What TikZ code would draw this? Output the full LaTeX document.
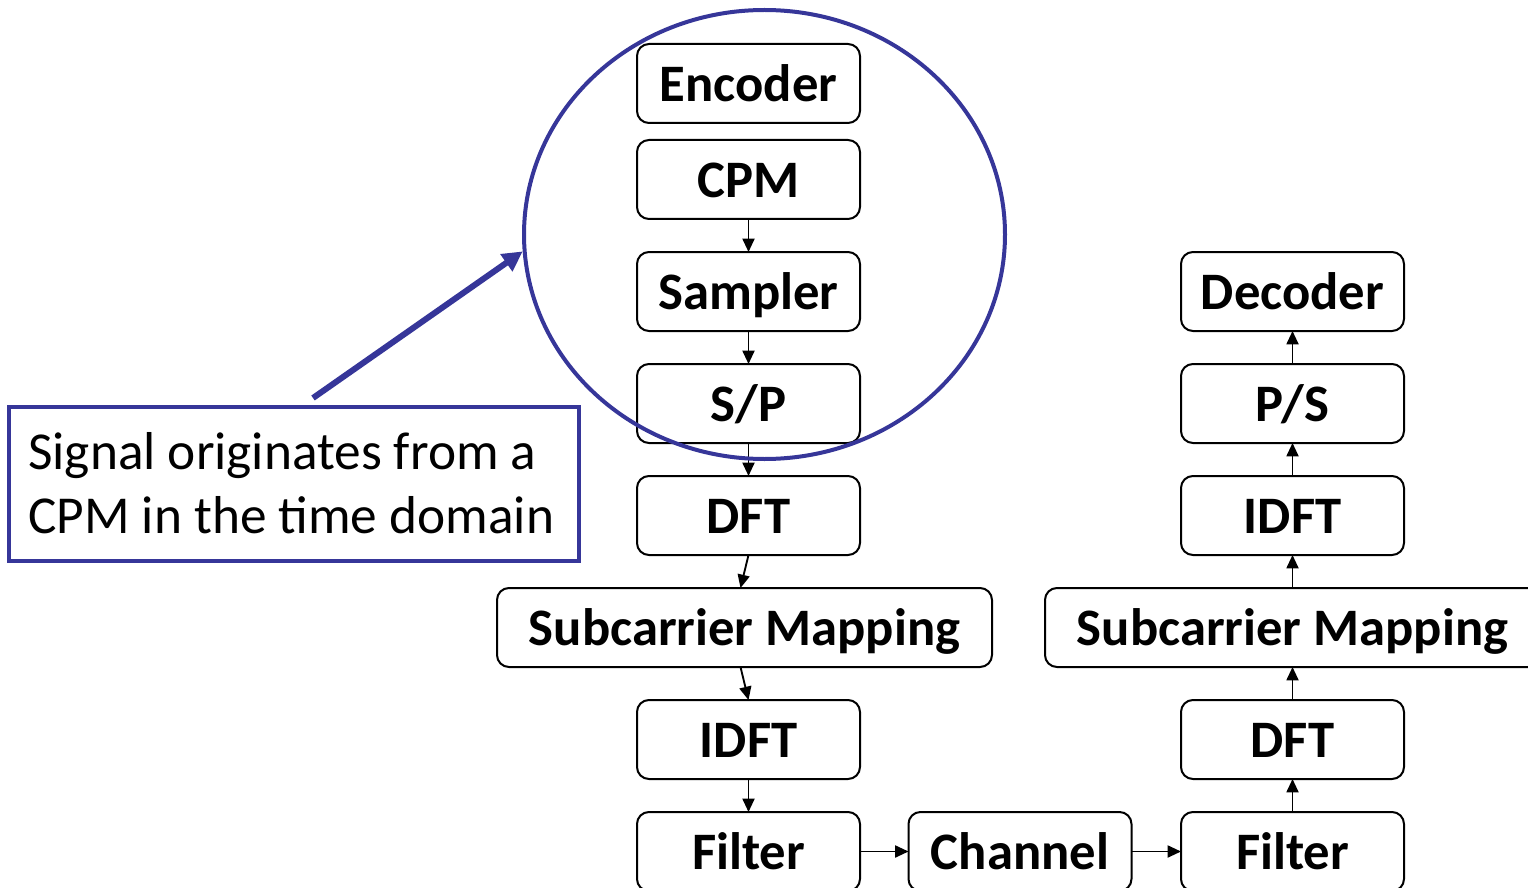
\documentclass[tikz,border=0pt]{standalone}
\usepackage{fontspec}
\setmainfont{Carlito}
\usetikzlibrary{arrows.meta,shapes.geometric}
\definecolor{callblue}{RGB}{54,54,153}
\begin{document}
\begin{tikzpicture}[x=0.75pt,y=-0.75pt,
  blk/.style={draw=black,line width=1.5pt,rounded corners=9pt,fill=white,
    minimum height=59.25pt,inner sep=0pt,outer sep=0pt,
    text height=31.6pt,text depth=4pt,
    font=\fontsize{39.5}{44}\selectfont\bfseries},
  small/.style={blk,minimum width=167.25pt},
  wide/.style={blk,minimum width=371.25pt},
  flow/.style={line width=1.4pt,-{Triangle[length=10pt,width=9pt]}}]
\useasboundingbox (0,0) rectangle (1528,888);
\clip (0,0) rectangle (1528,888);
% transmitter chain
\node[small] (enc) at (748.5,83.5) {Encoder};
\node[small] (cpm) at (748.5,179.5) {CPM};
\node[small] (samp) at (748.5,291.5) {Sampler};
\node[small] (sp) at (748.5,403.5) {S/P};
\node[small] (dftt) at (748.5,515.5) {DFT};
\node[wide] (mapt) at (744.5,627.5) {Subcarrier Mapping};
\node[small] (idftt) at (748.5,739.5) {IDFT};
\node[small] (filt) at (748.5,851.5) {Filter};
% channel
\node[small] (chan) at (1020,851.5) {Channel};
% receiver chain
\node[small] (filr) at (1292.5,851.5) {Filter};
\node[small] (dftr) at (1292.5,739.5) {DFT};
\node[wide] (mapr) at (1292.5,627.5) {Subcarrier Mapping};
\node[small] (idftr) at (1292.5,515.5) {IDFT};
\node[small] (ps) at (1292.5,403.5) {P/S};
\node[small] (dec) at (1292.5,291.5) {Decoder};
% connectors
\draw[flow] (cpm.south) -- (samp.north);
\draw[flow] (samp.south) -- (sp.north);
\draw[flow] (sp.south) -- (dftt.north);
\draw[flow] (dftt.south) -- ([xshift=-3]mapt.north);
\draw[flow] ([xshift=-3]mapt.south) -- (idftt.north);
\draw[flow] (idftt.south) -- (filt.north);
\draw[flow] (filt.east) -- (chan.west);
\draw[flow] (chan.east) -- (filr.west);
\draw[flow] (filr.north) -- (dftr.south);
\draw[flow] (dftr.north) -- (mapr.south);
\draw[flow] (mapr.north) -- (idftr.south);
\draw[flow] (idftr.north) -- (ps.south);
\draw[flow] (ps.north) -- (dec.south);
% highlight and callout
\node[ellipse,draw=callblue,line width=3pt,minimum width=360.75pt,
  minimum height=336.75pt,inner sep=0pt] (ring) at (764.5,234.5) {};
\node[draw=callblue,line width=3pt,minimum width=428pt,minimum height=115.5pt,
  inner sep=0pt,outer sep=0pt] (call) at (294,483.5) {};
\node[anchor=west,align=left,inner sep=0pt,
  font=\fontsize{40}{48}\selectfont] (calltxt) at (28,483.5)
  {Signal originates from a\\CPM in the time domain};
\coordinate (tail) at (313,398);
\draw[callblue,line width=4.5pt,-{Triangle[length=15pt,width=15pt]}]
  (tail) -- (ring.184.5);
\end{tikzpicture}
\end{document}
